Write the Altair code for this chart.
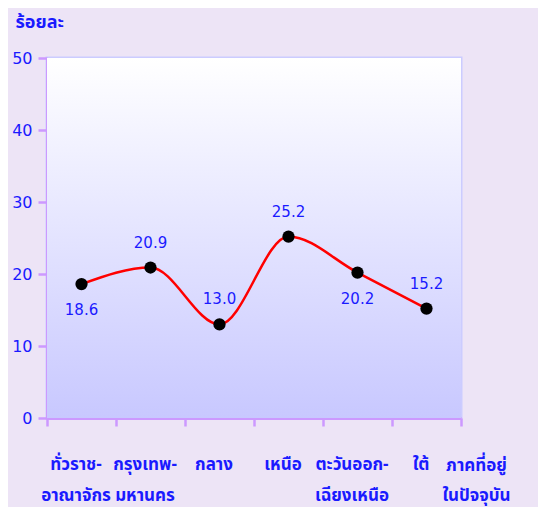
import altair as alt
import pandas as pd

regions = ["ทั่วราช-\nอาณาจักร", "กรุงเทพ-\nมหานคร", "กลาง", "เหนือ", "ตะวันออก-\nเฉียงเหนือ", "ใต้"]
values = [18.6, 20.9, 13.0, 25.2, 20.2, 15.2]
label_side = ["below", "above", "above", "above", "below", "above"]
y_ticks = [0, 10, 20, 30, 40, 50]

df = pd.DataFrame({"region": regions, "pct": values, "side": label_side})
df["label"] = df["pct"].map(lambda v: f"{v:.1f}")

FONT = "'DejaVu Sans', 'Noto Sans Thai', 'Noto Sans', sans-serif"
THAI = "'Noto Sans Thai', 'Noto Sans', sans-serif"
BLUE = "#1a1aff"
VIOLET = "#cc99ff"
LAV = "#ccccff"

W, H = 414, 360

x = alt.X(
    "region:N",
    sort=regions,
    scale=alt.Scale(paddingInner=0, paddingOuter=0),
    axis=alt.Axis(
        title=["ภาคที่อยู่", "ในปัจจุบัน"],
        labelExpr="split(datum.label, '\\n')",
        labelAngle=0,
        labelAlign="center",
        labelBaseline="top",
        labelPadding=30,
        labelLineHeight=31,
        labelOffset=-6,
        labelFont=THAI,
        labelFontSize=17,
        labelFontWeight="bold",
        tickBand="extent",
        tickSize=8,
        titleX=429,
        titleY=39,
        titleAlign="center",
        titleBaseline="top",
        titleLineHeight=30,
        titleFont=THAI,
        titleFontSize=17,
        titleFontWeight="bold",
    ),
)
y = alt.Y(
    "pct:Q",
    scale=alt.Scale(domain=[0, 50]),
    axis=alt.Axis(
        values=y_ticks,
        title="ร้อยละ",
        titleAngle=0,
        titleX=-32,
        titleY=-36,
        titleAlign="left",
        titleBaseline="middle",
        titleFont=THAI,
        titleFontSize=18,
        titleFontWeight="bold",
        tickSize=9,
        labelPadding=6,
        labelFont=FONT,
        labelFontSize=16,
        grid=False,
    ),
)

grad = alt.Gradient(
    gradient="linear",
    x1=0, y1=0, x2=0, y2=1,
    stops=[
        alt.GradientStop(offset=0, color="#ffffff"),
        alt.GradientStop(offset=1, color="#c8c8ff"),
    ],
)

bg = alt.Chart(pd.DataFrame({"a": [0]})).mark_rect(color=grad).encode(
    x=alt.value(0), x2=alt.value(W), y=alt.value(0), y2=alt.value(H)
)

base = alt.Chart(df)
line = base.mark_line(color="#ff0000", strokeWidth=2.5, interpolate="monotone").encode(x=x, y=y)
pts = base.mark_point(filled=True, color="#000000", size=150, opacity=1).encode(x=x, y=y)
above = base.transform_filter(alt.datum.side == "above").mark_text(
    dy=-25, color=BLUE, fontSize=15, font=FONT
).encode(x=x, y=y, text="label:N")
below = base.transform_filter(alt.datum.side == "below").mark_text(
    dy=26, color=BLUE, fontSize=15, font=FONT
).encode(x=x, y=y, text="label:N")

chart = (
    alt.layer(bg, line, pts, above, below)
    .properties(
        width=W,
        height=H,
        background="#ede4f6",
        autosize=alt.AutoSizeParams(type="none"),
        padding={"left": 39, "top": 50, "right": 77, "bottom": 89},
    )
    .configure_view(stroke=LAV, strokeWidth=3)
    .configure_axis(
        domainColor=VIOLET,
        domainWidth=3,
        tickColor=VIOLET,
        tickWidth=2.5,
        labelColor=BLUE,
        titleColor=BLUE,
    )
)

chart.save("out.html", embed_options={"renderer": "svg", "actions": False})
